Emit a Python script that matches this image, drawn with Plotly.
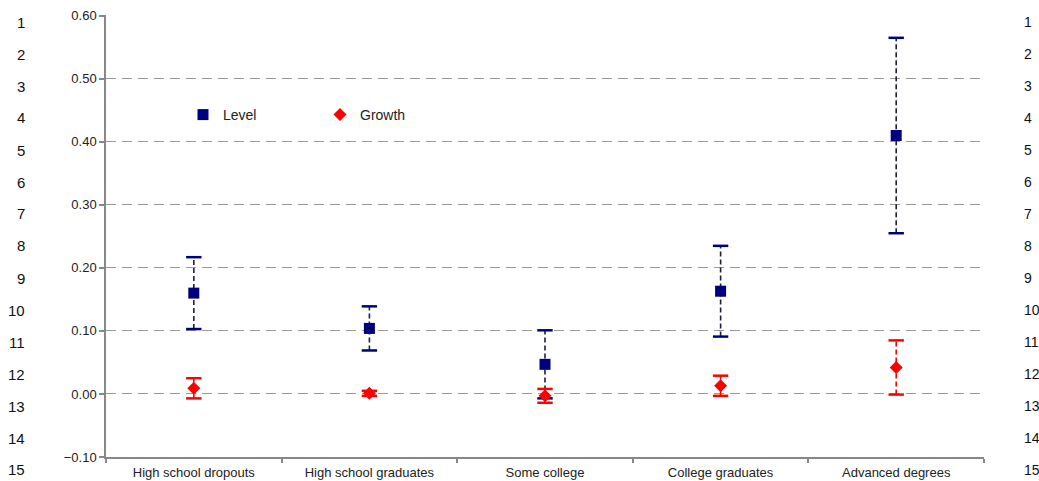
import plotly.graph_objects as go

categories = ["High school dropouts", "High school graduates", "Some college",
              "College graduates", "Advanced degrees"]
level = [0.160, 0.104, 0.047, 0.163, 0.410]
level_err = [0.057, 0.035, 0.054, 0.072, 0.155]
growth = [0.009, 0.001, -0.003, 0.013, 0.042]
growth_err = [0.016, 0.004, 0.011, 0.016, 0.043]
y_tick_vals = [-0.10, 0.00, 0.10, 0.20, 0.30, 0.40, 0.50, 0.60]
line_numbers = [str(i) for i in range(1, 16)]

W, H = 1039, 481
L, R, T, B = 106, 984, 15, 457  # plot area in px
FONT = "Liberation Sans, Arial, Helvetica, sans-serif"

fig = go.Figure()


def add_series(vals, errs, color, bar_color, symbol, name, msize):
    xs, ys = [], []
    for c, v, e in zip(categories, vals, errs):
        xs += [c, c, None]
        ys += [v - e, v + e, None]
    fig.add_trace(go.Scatter(x=xs, y=ys, mode="lines",
                             line=dict(color=bar_color, width=1.6, dash="5px,3px"),
                             showlegend=False, hoverinfo="skip"))
    fig.add_trace(go.Scatter(x=categories + categories,
                             y=[v - e for v, e in zip(vals, errs)] + [v + e for v, e in zip(vals, errs)],
                             mode="markers",
                             marker=dict(symbol="line-ew", size=11,
                                         line=dict(color=color, width=2.5)),
                             showlegend=False, hoverinfo="skip"))
    fig.add_trace(go.Scatter(x=categories, y=vals, mode="markers", name=name,
                             marker=dict(symbol=symbol, size=msize, color=color,
                                         line=dict(width=0))))


add_series(level, level_err, "#00007F", "#1C1C40", "square", "Level", 11)
add_series(growth, growth_err, "#FF0000", "#FF0000", "diamond", "Growth", 10)


def px_x(px):
    return (px - L) / (R - L)


def px_y(py):
    return (B - py) / (B - T)


annotations = []
for i, num in enumerate(line_numbers):
    py = 22 + i * 32.0
    annotations.append(dict(text=num, xref="paper", yref="paper", x=px_x(27), y=px_y(py),
                            xanchor="right", yanchor="middle", showarrow=False,
                            font=dict(family=FONT, size=15, color="#111")))
    annotations.append(dict(text=num, xref="paper", yref="paper", x=px_x(1022), y=px_y(py),
                            xanchor="left", yanchor="middle", showarrow=False,
                            font=dict(family=FONT, size=14, color="#111")))

fig.update_layout(
    width=W, height=H,
    margin=dict(l=L, r=W - R, t=T, b=H - B, pad=0, autoexpand=False),
    paper_bgcolor="white", plot_bgcolor="white",
    font=dict(family=FONT, size=12, color="#222"),
    showlegend=True,
    legend=dict(orientation="h", x=px_x(183), y=px_y(115), xanchor="left", yanchor="middle",
                font=dict(size=14, color="#222"), itemwidth=30, entrywidth=92,
                bgcolor="rgba(0,0,0,0)", tracegroupgap=0),
    annotations=annotations,
    xaxis=dict(type="category", categoryorder="array", categoryarray=categories,
               range=[-0.5, 4.5], showgrid=False, showline=True, linecolor="#888",
               linewidth=1.5, ticks="outside", tickson="boundaries", ticklen=4,
               tickcolor="#888", tickwidth=1.5, tickfont=dict(size=13, color="#222"),
               ticklabelstandoff=3, zeroline=False, fixedrange=True, automargin=False),
    yaxis=dict(range=[-0.10, 0.6012], tickvals=y_tick_vals, tickformat=".2f",
               showgrid=True, gridcolor="#9A9A9A", gridwidth=1.4, griddash="10px,6px",
               showline=True, linecolor="#888", linewidth=1.5, ticks="outside",
               ticklen=5, tickcolor="#888", tickwidth=1.5,
               tickfont=dict(size=13, color="#222"), zeroline=False, fixedrange=True,
               automargin=False),
)

fig.write_html("out.html", config={"displayModeBar": False},
               post_script="document.body.style.margin='0px';document.body.style.overflow='hidden';")
